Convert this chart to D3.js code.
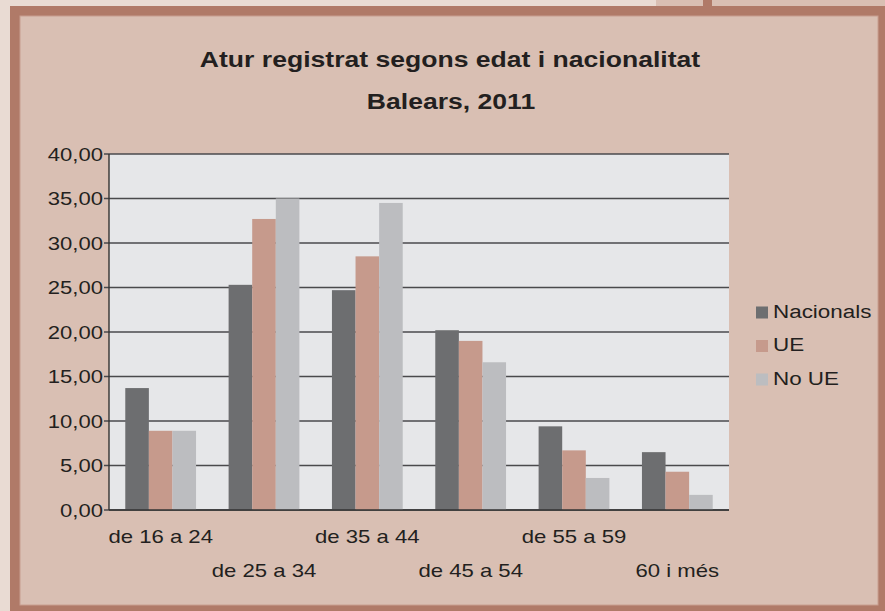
<!DOCTYPE html>
<html><head><meta charset="utf-8">
<script src="https://cdn.jsdelivr.net/npm/d3@7/dist/d3.min.js"></script>
<style>
html,body{margin:0;padding:0;background:#e9dbd3;}
svg{display:block;}
text{font-family:"Liberation Sans",Arial,Helvetica,sans-serif;fill:#231f20;}
</style></head>
<body>
<svg id="c" width="885" height="611"></svg>
<script>
const titleLines = ["Atur registrat segons edat i nacionalitat", "Balears, 2011"];
const categories = ["de 16 a 24", "de 25 a 34", "de 35 a 44", "de 45 a 54", "de 55 a 59", "60 i més"];
const seriesNames = ["Nacionals", "UE", "No UE"];
const nacionals = [13.7, 25.3, 24.7, 20.2, 9.4, 6.5];
const ue = [8.9, 32.7, 28.5, 19.0, 6.7, 4.3];
const noUe = [8.9, 35.0, 34.5, 16.6, 3.6, 1.7];
const yTicks = [0, 5, 10, 15, 20, 25, 30, 35, 40];
const colors = ["#6d6e70", "#c69a8c", "#bcbdc0"];

const values = [nacionals, ue, noUe];
const svg = d3.select("#c");
const SX = 1.2; // horizontal stretch of the original text

// frame
svg.append("rect").attr("x",0).attr("y",0).attr("width",885).attr("height",611).attr("fill","#e9dbd3");
svg.append("rect").attr("x",656).attr("y",0).attr("width",229).attr("height",8).attr("fill","#d9bfb3");
svg.append("rect").attr("x",703).attr("y",0).attr("width",9).attr("height",8).attr("fill","#b07a68");
svg.append("rect").attr("x",10).attr("y",6).attr("width",885).attr("height",610).attr("fill","#b07a68");
svg.append("rect").attr("x",20).attr("y",16).attr("width",858).attr("height",589).attr("fill","#d9bfb3")
  .attr("stroke","#c89e8f").attr("stroke-width",1);

function stretchedText(g, x, y, str, opts) {
  const t = g.append("text")
    .attr("transform", `translate(${x},${y}) scale(${opts.sx||SX},1)`)
    .attr("text-anchor", opts.anchor || "start")
    .style("font-size", (opts.size||18.5) + "px")
    .text(str);
  if (opts.bold) t.style("font-weight", "bold");
  return t;
}

// titles
stretchedText(svg, 450, 67, titleLines[0], {anchor:"middle", size:21.6, bold:true, sx:1.23});
stretchedText(svg, 451, 109, titleLines[1], {anchor:"middle", size:21.6, bold:true, sx:1.23});

const plot = {left:109, right:729, top:154, bottom:510};
const x0 = d3.scaleBand().domain(categories).range([plot.left, plot.right]).padding(0);
const x1 = d3.scaleBand().domain(seriesNames).range([0, x0.bandwidth()]).paddingInner(0).paddingOuter(0.69);
const y = d3.scaleLinear().domain([0, 40]).range([plot.bottom, plot.top]);

svg.append("rect").attr("x",plot.left).attr("y",plot.top).attr("width",plot.right-plot.left)
  .attr("height",plot.bottom-plot.top).attr("fill","#e6e7e9");

// gridlines + ticks
const grid = svg.append("g");
grid.selectAll("line").data(yTicks).join("line")
  .attr("x1", plot.left-5).attr("x2", plot.right)
  .attr("y1", d => y(d)).attr("y2", d => y(d))
  .attr("stroke", "#4a4a4c").attr("stroke-width", 1.4);

const fmt = d => d3.format(".2f")(d).replace(".", ",");
yTicks.forEach(d => stretchedText(svg, 103, y(d) + 6.7, fmt(d), {anchor:"end", size:18.7, sx:1.18}));

// bars
seriesNames.forEach((s, si) => {
  svg.append("g").selectAll("rect").data(values[si]).join("rect")
    .attr("x", (d, i) => x0(categories[i]) + x1(s))
    .attr("width", x1.bandwidth())
    .attr("y", d => y(d))
    .attr("height", d => y(0) - y(d))
    .attr("fill", colors[si]);
});

// axes lines
svg.append("line").attr("x1",plot.left).attr("x2",plot.left).attr("y1",plot.top).attr("y2",plot.bottom)
  .attr("stroke","#333","stroke-width",1.4).attr("stroke-width",1.4);
svg.append("line").attr("x1",plot.left).attr("x2",plot.right).attr("y1",plot.bottom).attr("y2",plot.bottom)
  .attr("stroke","#333").attr("stroke-width",1.6);

// x labels, staggered
categories.forEach((c, i) => {
  const cx = x0(c) + x0.bandwidth() / 2;
  stretchedText(svg, cx, i % 2 === 0 ? 543 : 577, c, {anchor:"middle", size:18.3, sx:1.21});
});

// legend
const legY = [306.5, 340, 373.5];
seriesNames.forEach((s, i) => {
  svg.append("rect").attr("x",756).attr("y",legY[i]).attr("width",12).attr("height",12).attr("fill",colors[i]);
  stretchedText(svg, 773, legY[i] + 11, s, {size:19, sx:1.18});
});
</script>
</body></html>
